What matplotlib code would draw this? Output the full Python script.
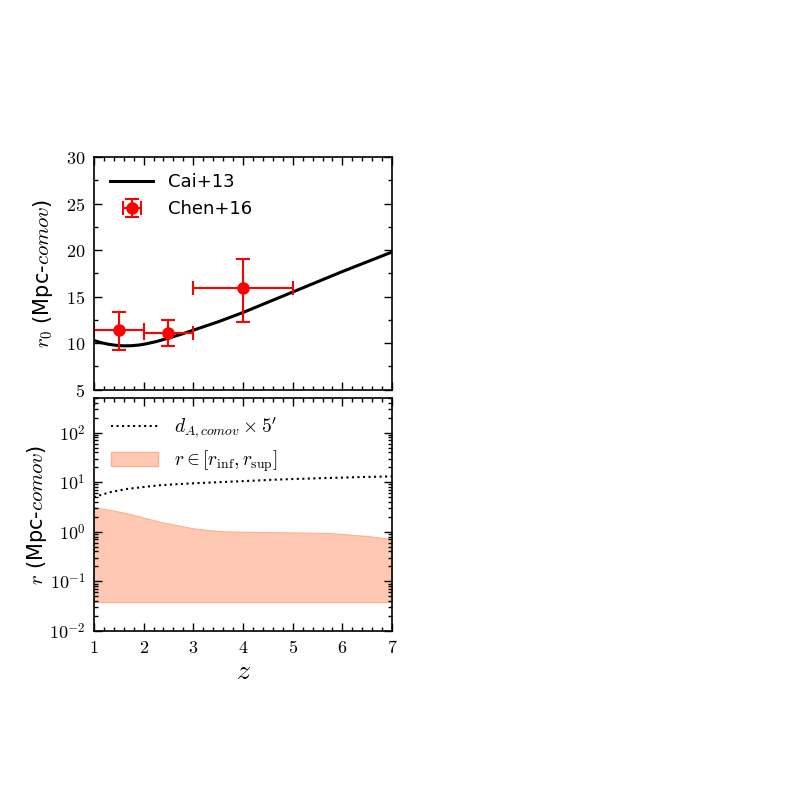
import numpy as np
import matplotlib
matplotlib.use("Agg")
import matplotlib.pyplot as plt
from matplotlib.ticker import MultipleLocator, LogLocator, FuncFormatter, NullFormatter
from matplotlib.patches import Patch
from matplotlib.lines import Line2D

plt.rcParams['mathtext.fontset'] = 'cm'
plt.rcParams['font.family'] = ['DejaVu Sans']

# Cai+13 model curve
cai_z = [1.0, 1.15, 1.3, 1.45, 1.6, 1.75, 1.9, 2.05, 2.25, 2.5, 2.75, 3.0, 3.5, 4.0, 4.5, 5.0, 5.5, 6.0, 6.5, 7.0]
cai_r0 = [10.3, 10.05, 9.88, 9.77, 9.72, 9.73, 9.8, 9.93, 10.17, 10.55, 10.95, 11.4, 12.3, 13.3, 14.4, 15.5, 16.6, 17.7, 18.75, 19.8]

# Chen+16 data
chen_z = [1.5, 2.5, 4.0]
chen_zerr = [0.5, 0.5, 1.0]
chen_r0 = [11.45, 11.15, 15.9]
chen_up = [13.35, 12.5, 19.0]
chen_lo = [9.3, 9.7, 12.25]

# Bottom panel
dA_z = [1.0, 1.33, 1.66, 2.0, 2.33, 2.66, 3.0, 3.5, 4.0, 4.5, 5.0, 5.5, 6.0, 6.5, 7.0]
dA_r = [5.0, 6.3, 7.3, 8.0, 8.7, 9.1, 9.5, 10.0, 10.5, 11.1, 11.6, 12.0, 12.4, 12.8, 13.1]

band_z = [1.0, 1.33, 1.66, 2.0, 2.34, 2.68, 3.0, 3.5, 4.0, 4.5, 5.0, 5.7, 6.0, 6.5, 7.0]
band_sup = [3.15, 2.75, 2.37, 1.93, 1.58, 1.35, 1.17, 1.03, 1.0, 0.98, 0.97, 0.94, 0.90, 0.82, 0.71]
band_inf = [0.038] * len(band_z)

fig = plt.figure(figsize=(7.89, 7.89), dpi=100)
ax1 = fig.add_axes([0.119, 0.506, 0.378, 0.295])
ax2 = fig.add_axes([0.119, 0.2005, 0.378, 0.295])

def style(ax):
    ax.tick_params(which='both', direction='in', top=True, right=True, pad=6)
    ax.tick_params(which='major', length=6, width=1)
    ax.tick_params(which='minor', length=3, width=1)
    for s in ax.spines.values():
        s.set_linewidth(1.2)

# Top panel
ax1.plot(cai_z, cai_r0, color='black', lw=2.2, label='Cai+13')
yerr = [np.array(chen_r0) - np.array(chen_lo), np.array(chen_up) - np.array(chen_r0)]
ax1.errorbar(chen_z, chen_r0, xerr=chen_zerr, yerr=yerr, fmt='o', color='red',
             ms=8, lw=1.5, capsize=5, capthick=1.5, label='Chen+16')
ax1.set_xlim(1, 7)
ax1.set_ylim(5, 30)
ax1.xaxis.set_major_locator(MultipleLocator(1))
ax1.xaxis.set_minor_locator(MultipleLocator(0.2))
ax1.yaxis.set_major_locator(MultipleLocator(5))
ax1.yaxis.set_minor_locator(MultipleLocator(2.5))
ax1.xaxis.set_major_formatter(NullFormatter())
ax1.yaxis.set_major_formatter(FuncFormatter(lambda v, p: r'$%d$' % v))
style(ax1)
ax1.tick_params(labelsize=13)
ax1.set_ylabel(r'$r_0$ (Mpc-$comov$)', fontsize=15, labelpad=8)
ax1.legend(loc='upper left', frameon=False, numpoints=1, fontsize=13, handlelength=2.4)

# Bottom panel
ax2.plot(dA_z, dA_r, color='black', ls=':', lw=1.5)
ax2.fill_between(band_z, band_inf, band_sup, color='#fec8b2', edgecolor='#fbb195', lw=0.8)
ax2.set_yscale('log')
ax2.set_xlim(1, 7)
ax2.set_ylim(1e-2, 5e2)
ax2.xaxis.set_major_locator(MultipleLocator(1))
ax2.xaxis.set_minor_locator(MultipleLocator(0.2))
ax2.xaxis.set_major_formatter(FuncFormatter(lambda v, p: r'$%d$' % v))
ax2.yaxis.set_major_locator(LogLocator(base=10, numticks=10))
ax2.yaxis.set_minor_locator(LogLocator(base=10, subs=np.arange(2, 10), numticks=10))
ax2.yaxis.set_major_formatter(FuncFormatter(lambda v, p: r'$10^{%d}$' % int(round(np.log10(v)))))
ax2.yaxis.set_minor_formatter(NullFormatter())
style(ax2)
ax2.tick_params(labelsize=13)
ax2.set_ylabel(r'$r$ (Mpc-$comov$)', fontsize=15, labelpad=0)
ax2.set_xlabel(r'$z$', fontsize=20, labelpad=0)
handles = [Line2D([], [], color='black', ls=':', lw=1.5),
           Patch(facecolor='#fec8b2', edgecolor='#fbb195')]
labels = [r'$d_{A,comov}\times5^{\prime}$', r'$r\in[r_{\rm inf},r_{\rm sup}]$']
ax2.legend(handles, labels, loc='upper left', frameon=False, fontsize=14,
           handlelength=2.4, labelspacing=0.4, borderaxespad=0.5)

fig.savefig('out.png', dpi=100)
